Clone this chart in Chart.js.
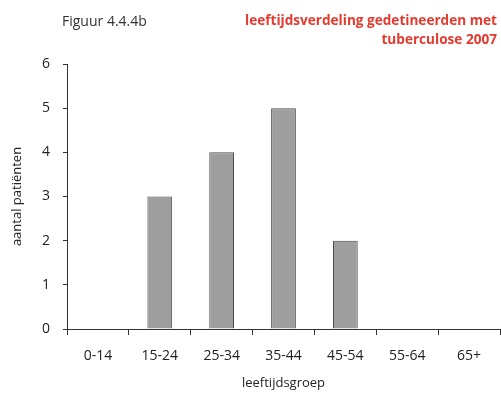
<!DOCTYPE html>
<html>
<head>
<meta charset="utf-8">
<script src="https://cdn.jsdelivr.net/npm/chart.js@4"></script>
<style>
  html, body { margin: 0; padding: 0; background: #fff; }
  #wrap { position: relative; width: 501px; height: 397px; font-family: 'Open Sans', sans-serif; }
  #fig { position: absolute; left: 62px; top: 11px; font-size: 14px; color: #333; }
  #title { position: absolute; right: 4px; top: 10px; font-size: 13.6px; font-weight: bold; color: #e53a2e; text-align: right; line-height: 19px; }
  canvas { position: absolute; left: 0; top: 0; }
</style>
</head>
<body>
<div id="wrap">
  <canvas id="chart" width="501" height="397"></canvas>
  <div id="fig">Figuur 4.4.4b</div>
  <div id="title">leeftijdsverdeling gedetineerden met<br>tuberculose 2007</div>
</div>
<script>
const ageGroups = ['0-14', '15-24', '25-34', '35-44', '45-54', '55-64', '65+'];
const patients = [0, 3, 4, 5, 2, 0, 0];

const axisColor = '#333';
const tickFont = { family: 'Open Sans', size: 14 };

new Chart(document.getElementById('chart'), {
  type: 'bar',
  data: {
    labels: ageGroups,
    datasets: [{
      data: patients,
      backgroundColor: '#9e9e9e',
      borderColor: '#4a4a4a',
      borderWidth: 1,
      categoryPercentage: 1,
      barPercentage: 0.4
    }]
  },
  options: {
    responsive: false,
    animation: false,
    layout: { padding: { top: 64, right: 1, left: 0, bottom: 0 } },
    plugins: { legend: { display: false }, tooltip: { enabled: false } },
    scales: {
      x: {
        grid: { offset: true, drawOnChartArea: false, tickLength: 6, color: axisColor },
        border: { color: axisColor },
        ticks: { font: tickFont, color: '#222', padding: 13 },
        title: { display: true, text: 'leeftijdsgroep', font: { family: 'Open Sans', size: 13 }, color: '#222', padding: { top: 0, bottom: 6 } },
        afterFit(scale) { scale.height = 68; }
      },
      y: {
        min: 0,
        max: 6,
        ticks: { stepSize: 1, font: tickFont, color: '#222', padding: 13 },
        grid: { drawOnChartArea: false, tickLength: 4, color: axisColor },
        border: { color: axisColor },
        title: { display: true, text: 'aantal patiënten', font: { family: 'Open Sans', size: 13 }, color: '#222', padding: { top: 9, bottom: 0 } },
        afterFit(scale) { scale.width = 67; }
      }
    }
  }
});
</script>
</body>
</html>
